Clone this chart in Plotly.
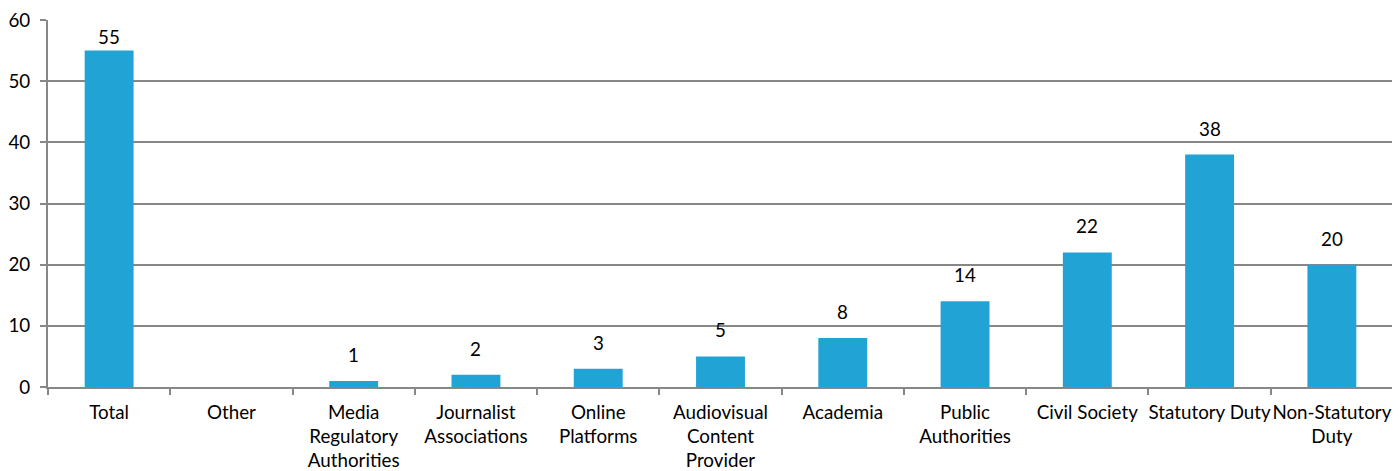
import plotly.graph_objects as go

categories = ["Total", "Other", "Media<br>Regulatory<br>Authorities", "Journalist<br>Associations",
              "Online<br>Platforms", "Audiovisual<br>Content<br>Provider", "Academia",
              "Public<br>Authorities", "Civil Society", "Statutory Duty", "Non-Statutory<br>Duty"]
values = [55, 0, 1, 2, 3, 5, 8, 14, 22, 38, 20]
labels = ["55", "", "1", "2", "3", "5", "8", "14", "22", "38", "20"]
y_ticks = [0, 10, 20, 30, 40, 50, 60]

FS = 18.8

fig = go.Figure(go.Bar(
    x=categories, y=values,
    marker=dict(color="#22A3D6", line=dict(width=0)),
    cliponaxis=False,
))

for cat, v, lab in zip(categories, values, labels):
    if not lab:
        continue
    fig.add_annotation(
        x=cat, y=v, text=lab, showarrow=False, xref="x", yref="y",
        yanchor="bottom", yshift=13 if v < 50 else 1,
        font=dict(size=FS, color="black"),
    )

fig.update_layout(
    width=1392, height=463,
    margin=dict(l=40, r=7, t=12, b=84, autoexpand=False),
    paper_bgcolor="white", plot_bgcolor="white",
    font=dict(family="Lato, Open Sans, sans-serif", size=FS, color="black"),
    bargap=0.6,
    showlegend=False,
)
fig.update_xaxes(
    type="category", tickson="boundaries", ticks="outside", ticklen=6,
    tickcolor="#878787", tickwidth=2, automargin=False, tickangle=0,
    showline=True, linecolor="#878787", linewidth=2,
    tickfont=dict(size=FS), showgrid=False, ticklabelstandoff=7,
    ticklabeloverflow="allow",
)
fig.update_yaxes(
    range=[0, 60], tickvals=y_ticks, ticks="outside", ticklen=6,
    tickcolor="#878787", tickwidth=2, automargin=False,
    showline=True, linecolor="#878787", linewidth=2,
    showgrid=True, gridcolor="#878787", gridwidth=2,
    zeroline=False, tickfont=dict(size=FS), ticklabelstandoff=6,
    ticklabeloverflow="allow",
)

fig.write_html("out.html")
